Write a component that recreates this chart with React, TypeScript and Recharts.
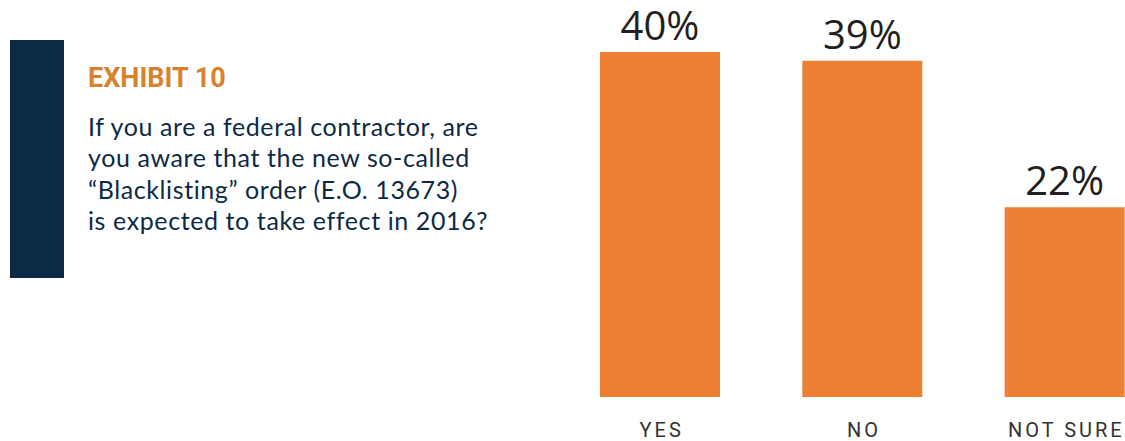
import React from "react";
import { BarChart, Bar, XAxis, YAxis, LabelList } from "recharts";

const categories = ["YES", "NO", "NOT SURE"];
const shares = [40, 39, 22];
const questionLines = [
  "If you are a federal contractor, are",
  "you aware that the new so-called",
  "\u201cBlacklisting\u201d order (E.O. 13673)",
  "is expected to take effect in 2016?",
];

const chartData = categories.map((c, i) => ({ name: c, value: shares[i] }));

const ORANGE = "#ee8033";
const NAVY = "#0a2a46";

function CategoryTick(props: any) {
  const { x, payload } = props;
  return (
    <text
      x={x + 1.5}
      y={437}
      textAnchor='middle'
      fill='#333333'
      fontSize={20}
      fontFamily='Roboto'
      letterSpacing={3}
    >
      {payload.value}
    </text>
  );
}

export default function App() {
  return (
    <div
      style={{
        position: "absolute",
        left: 0,
        top: 0,
        width: 1125,
        height: 441,
        overflow: "hidden",
        background: "#fff",
      }}
    >
      <svg
        width={560}
        height={441}
        style={{ position: "absolute", left: 0, top: 0 }}
      >
        <rect x={10} y={40} width={54} height={238} fill={NAVY} />
        <text
          x={88}
          y={87}
          fill='#d8822e'
          fontSize={27}
          fontWeight={700}
          fontFamily='Roboto'
        >
          EXHIBIT 10
        </text>
        {questionLines.map((line, i) => (
          <text
            key={i}
            x={88}
            y={136 + i * 31.3}
            fill='#0d2a45'
            fontSize={25}
            fontFamily='Lato'
            letterSpacing={0.6}
          >
            {line}
          </text>
        ))}
      </svg>
      <div style={{ position: "absolute", left: 0, top: 0 }}>
        <BarChart
          width={1166}
          height={441}
          data={chartData}
          margin={{ top: 52, right: 0, bottom: 0, left: 559 }}
        >
          <XAxis
            dataKey='name'
            axisLine={false}
            tickLine={false}
            height={44}
            tick={<CategoryTick />}
            interval={0}
          />
          <YAxis hide domain={[0, 40]} />
          <Bar
            dataKey='value'
            fill={ORANGE}
            barSize={120}
            isAnimationActive={false}
          >
            <LabelList
              dataKey='value'
              position='top'
              offset={12}
              formatter={(v: any) => `${v}%`}
              fill='#231f20'
              fontSize={40}
              fontFamily='Open Sans'
            />
          </Bar>
        </BarChart>
      </div>
    </div>
  );
}
